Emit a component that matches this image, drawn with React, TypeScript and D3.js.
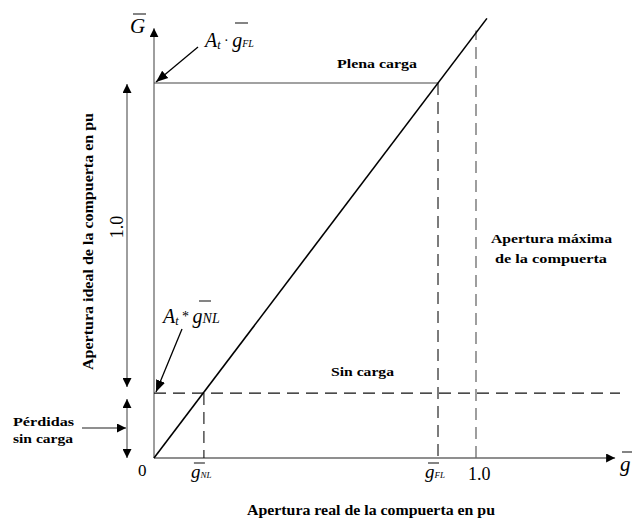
import * as d3 from "d3";
import React from "react";

// values (per unit)
const G_NL = 0.155;          // no-load gate opening
const G_FL = 0.882;          // full-load gate opening
const G_MAX = 1.0;           // maximum gate opening
const LOSS = 0.21;           // ideal opening level at no-load
const FULL = 1.213;          // ideal opening level at full-load
const LINE_PTS: [number, number][] = [[0, 0], [1.034, 1.422]];
const X_END = 1.432;
const Y_END = 1.39;
const X_TICKS = [
  { v: 0, sub: "" },
  { v: G_NL, sub: "NL" },
  { v: G_FL, sub: "FL" },
  { v: G_MAX, sub: "" },
];

const W = 632;
const H = 527;
const SERIF = "'Liberation Serif', 'DejaVu Serif', serif";

export default function App() {
  const x = d3.scaleLinear().domain([0, 1]).range([154, 476]);
  const y = d3.scaleLinear().domain([0, FULL]).range([458, 83]);
  const line = d3.line<[number, number]>().x(d => x(d[0])).y(d => y(d[1]));
  const grey = "#6a6a6a";
  const dash = "12,7";

  return (
    <svg width={W} height={H} style={{ position: "absolute", left: 0, top: 0, background: "#fff" }}
      fontFamily={SERIF}>
      <defs>
        <marker id="ah" viewBox="0 0 10 10" refX="10" refY="5" markerWidth="9" markerHeight="9"
          markerUnits="userSpaceOnUse" orient="auto-start-reverse">
          <path d="M0,0 L10,5 L0,10 z" fill="#000" />
        </marker>
        <marker id="ah2" viewBox="0 0 10 10" refX="10" refY="5" markerWidth="12" markerHeight="12"
          markerUnits="userSpaceOnUse" orient="auto-start-reverse">
          <path d="M0,1 L10,5 L0,9 z" fill="#000" />
        </marker>
      </defs>

      {/* axes */}
      <line x1={x(0)} x2={x(X_END)} y1={y(0)} y2={y(0)} stroke={grey} strokeWidth={1.3} markerEnd="url(#ah)" />
      <line x1={x(0)} x2={x(0)} y1={y(0)} y2={y(Y_END)} stroke={grey} strokeWidth={1.3} markerEnd="url(#ah)" />

      {/* full load */}
      <line x1={x(0)} x2={x(G_FL)} y1={y(FULL)} y2={y(FULL)} stroke="#444" strokeWidth={1.2} />
      <line x1={x(G_FL)} x2={x(G_FL)} y1={y(FULL)} y2={y(0)} stroke="#111" strokeWidth={1.1} strokeDasharray={dash} />
      {/* max opening */}
      <line x1={x(G_MAX)} x2={x(G_MAX)} y1={y(0)} y2={y(LINE_PTS[1][1]) + 12} stroke={grey} strokeWidth={1.3} strokeDasharray={dash} />
      {/* no load */}
      <line x1={x(0)} x2={620} y1={y(LOSS)} y2={y(LOSS)} stroke="#111" strokeWidth={1.1} strokeDasharray={dash} />
      <line x1={x(G_NL)} x2={x(G_NL)} y1={y(LOSS)} y2={y(0)} stroke="#111" strokeWidth={1.1} strokeDasharray={dash} />

      {/* characteristic */}
      <path d={line(LINE_PTS) ?? ""} fill="none" stroke="#000" strokeWidth={1.6} />

      {/* left dimension arrows */}
      <line x1={127} x2={127} y1={y(FULL) + 1} y2={y(LOSS) - 6} stroke={grey} strokeWidth={1.3}
        markerStart="url(#ah)" markerEnd="url(#ah)" />
      <line x1={127} x2={127} y1={y(LOSS) + 6} y2={y(0)} stroke={grey} strokeWidth={1.3}
        markerStart="url(#ah)" markerEnd="url(#ah)" />
      <line x1={82} x2={126} y1={428} y2={428} stroke={grey} strokeWidth={1.3} markerEnd="url(#ah)" />

      {/* pointer arrows */}
      <line x1={198} x2={x(0) + 2} y1={47} y2={y(FULL) - 1} stroke="#000" strokeWidth={1.3} markerEnd="url(#ah2)" />
      <line x1={182} x2={x(0) + 2} y1={329} y2={y(LOSS) - 1} stroke="#000" strokeWidth={1.3} markerEnd="url(#ah2)" />

      {/* axis symbols */}
      <text x={130} y={33} fontSize={21} fontStyle="italic">G</text>
      <line x1={133} x2={146} y1={14} y2={14} stroke="#333" strokeWidth={1.2} />
      <text x={620} y={471} fontSize={21} fontStyle="italic">g</text>
      <line x1={622} x2={632} y1={452} y2={452} stroke="#333" strokeWidth={1.2} />

      {/* At·gFL */}
      <text x={205} y={47} fontSize={20} fontStyle="italic">
        A<tspan fontSize={12} dy={2}>t</tspan>
        <tspan fontSize={14} dy={-4} fontStyle="normal"> · </tspan>
        <tspan fontSize={20} dy={2}>g</tspan>
        <tspan fontSize={10} fontStyle="italic">FL</tspan>
      </text>
      <line x1={235} x2={248} y1={23} y2={23} stroke="#333" strokeWidth={1.2} />

      {/* At*gNL */}
      <text x={163} y={323} fontSize={20} fontStyle="italic">
        A<tspan fontSize={12} dy={2}>t</tspan>
        <tspan fontSize={14} dy={-4} fontStyle="normal"> * </tspan>
        <tspan fontSize={20} dy={2}>g</tspan>
        <tspan fontSize={14} dy={0}>NL</tspan>
      </text>
      <line x1={199} x2={211} y1={301} y2={301} stroke="#333" strokeWidth={1.2} />

      {/* x tick labels */}
      {X_TICKS.map((t, i) => {
        if (t.sub === "") {
          return (
            <text key={i} x={t.v === 0 ? x(0) - 16 : x(t.v) - 8} y={t.v === 0 ? 476 : 480}
              fontSize={t.v === 0 ? 17 : 18}>{t.v === 0 ? "0" : t.v.toFixed(1)}</text>
          );
        }
        const gx = x(t.v) - 13;
        return (
          <g key={i}>
            <text x={gx} y={478} fontSize={19} fontStyle="italic">
              g<tspan fontSize={9}>{t.sub}</tspan>
            </text>
            <line x1={gx + 3} x2={gx + 14} y1={463} y2={463} stroke="#333" strokeWidth={1.2} />
          </g>
        );
      })}

      {/* 1.0 rotated */}
      <text transform="translate(123,227) rotate(-90)" textAnchor="middle" fontSize={18}>1.0</text>

      {/* bold labels */}
      <g fontWeight="bold" fontSize={13.5}>
        <text x={337} y={68} textLength={80} lengthAdjust="spacingAndGlyphs">Plena carga</text>
        <text x={331} y={376} textLength={63} lengthAdjust="spacingAndGlyphs">Sin carga</text>
        <text x={491} y={243} textLength={121} lengthAdjust="spacingAndGlyphs">Apertura máxima</text>
        <text x={495} y={263} textLength={112} lengthAdjust="spacingAndGlyphs">de la compuerta</text>
        <text x={13} y={426} textLength={61} lengthAdjust="spacingAndGlyphs">Pérdidas</text>
        <text x={13} y={443} textLength={60} lengthAdjust="spacingAndGlyphs">sin carga</text>
        <text x={247} y={515} textLength={248} lengthAdjust="spacingAndGlyphs"
          fontSize={14.5}>Apertura real de la compuerta en pu</text>
        <text transform="translate(93,370) rotate(-90)" textLength={257} lengthAdjust="spacingAndGlyphs"
          fontSize={14.5}>Apertura ideal de la compuerta en pu</text>
      </g>
    </svg>
  );
}
